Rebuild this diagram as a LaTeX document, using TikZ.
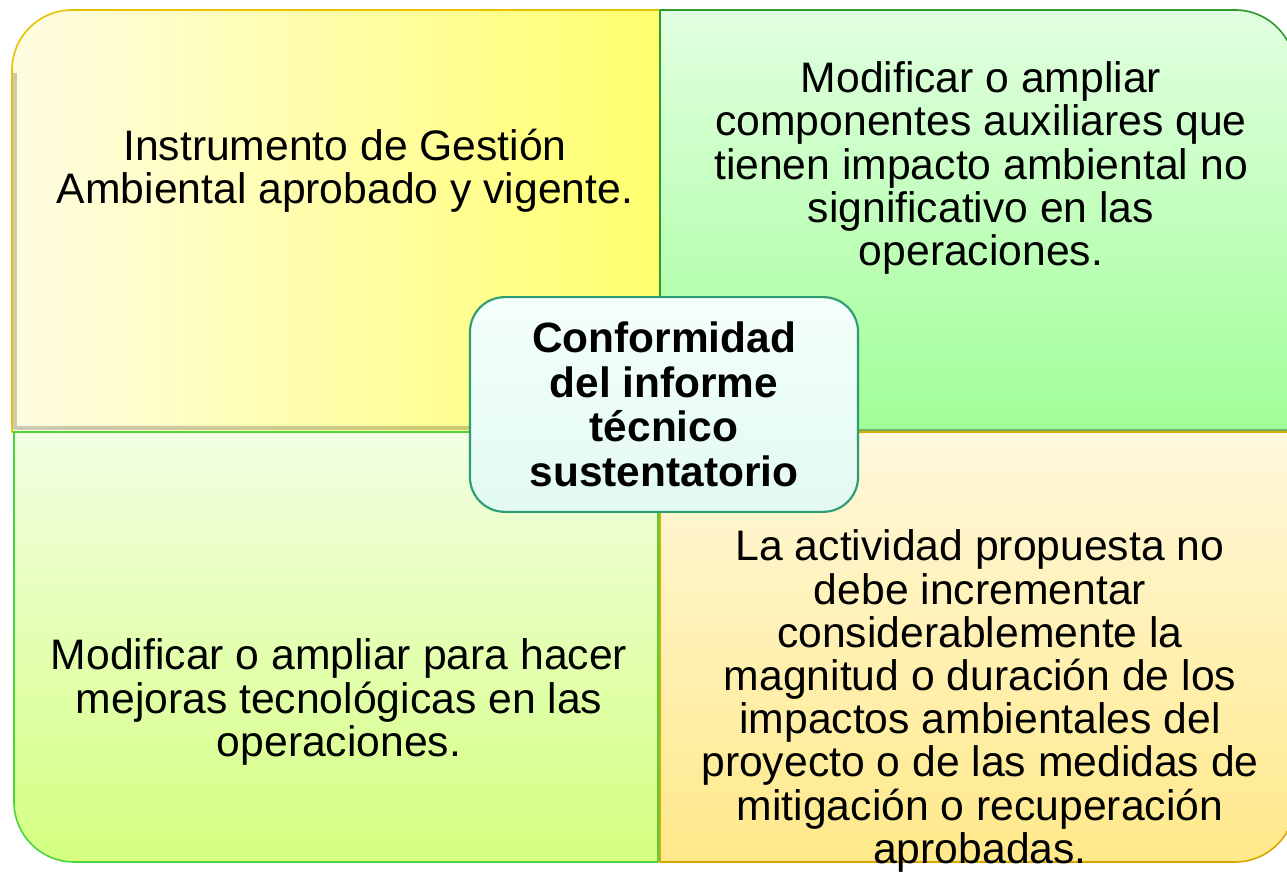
\documentclass[tikz,border=0pt]{standalone}
\usepackage{fontspec}
\setmainfont{Liberation Sans}
\definecolor{amaClaro}{HTML}{FFFDE2}
\definecolor{amaFuerte}{HTML}{FFFF6E}
\definecolor{verClaro}{HTML}{E2FFE0}
\definecolor{verFuerte}{HTML}{A0FF98}
\definecolor{limClaro}{HTML}{F2FFE2}
\definecolor{limFuerte}{HTML}{D4FF80}
\definecolor{creClaro}{HTML}{FFF8DC}
\definecolor{creFuerte}{HTML}{FFE98A}
\definecolor{bordeAma}{HTML}{E6C200}
\definecolor{bordeVer}{HTML}{2E9A2E}
\definecolor{bordeLim}{HTML}{4CD43C}
\definecolor{bordeCre}{HTML}{D9A800}
\definecolor{bordeTeal}{HTML}{2E9E72}
\definecolor{centroClaro}{HTML}{F4FFFC}
\definecolor{centroFondo}{HTML}{E2FAF2}

\begin{document}
\begin{tikzpicture}[x=0.75pt, y=0.75pt, line join=round,
        quad/.style={line width=1.2pt},
        txt/.style={align=center, inner sep=0pt, font=\fontsize{32}{32.4}\selectfont},
        centro/.style={draw=bordeTeal, line width=1.6pt, rounded corners=26pt, top color=centroClaro, bottom color=centroFondo,
            minimum width=291pt, minimum height=161pt, inner sep=0pt, align=center, font=\fontsize{31.8}{33.4}\selectfont\bfseries}]
        \useasboundingbox (0,0) rectangle (1287,873);

        \shadedraw[quad, draw=bordeAma, left color=amaClaro, right color=amaFuerte]
            (12,441) -- (12,803) arc[start angle=180, end angle=90, radius=45pt] -- (660,863) -- (660,441) -- cycle;
        \shadedraw[quad, draw=bordeVer, top color=verClaro, bottom color=verFuerte]
            (660,441) -- (660,863) -- (1235,863) arc[start angle=90, end angle=0, radius=45pt] -- (1295,441) -- cycle;
        \shadedraw[quad, draw=bordeLim, top color=limClaro, bottom color=limFuerte]
            (14,441) -- (14,71) arc[start angle=180, end angle=270, radius=45pt] -- (658,11) -- (658,441) -- cycle;
        \shadedraw[quad, draw=bordeCre, top color=creClaro, bottom color=creFuerte]
            (660,441) -- (1295,441) -- (1295,71) arc[start angle=0, end angle=-90, radius=45pt] -- (660,11) -- cycle;
        \draw[black, opacity=.2, line width=3pt] (15,800) -- (15,445) -- (657,445);
        \draw[black, opacity=.3, line width=2pt] (662,443) -- (1290,443);

        \node[centro] (conformidad) at (664,468.5) {Conformidad\\del informe\\técnico\\sustentatorio};

        \node[txt] (instrumento) at (345,702) {Instrumento de Gestión\\Ambiental aprobado y vigente.};
        \node[txt] (componentes) at (981,705) {Modificar o ampliar\\componentes auxiliares que\\tienen impacto ambiental no\\significativo en las\\operaciones.};
        \node[txt] (mejoras) at (339,171) {Modificar o ampliar para hacer\\mejoras tecnológicas en las\\operaciones.};
        \node[txt] (actividad) at (980,172) {La actividad propuesta no\\debe incrementar\\considerablemente la\\magnitud o duración de los\\impactos ambientales del\\proyecto o de las medidas de\\mitigación o recuperación\\aprobadas.};
    \end{tikzpicture}
\end{document}
